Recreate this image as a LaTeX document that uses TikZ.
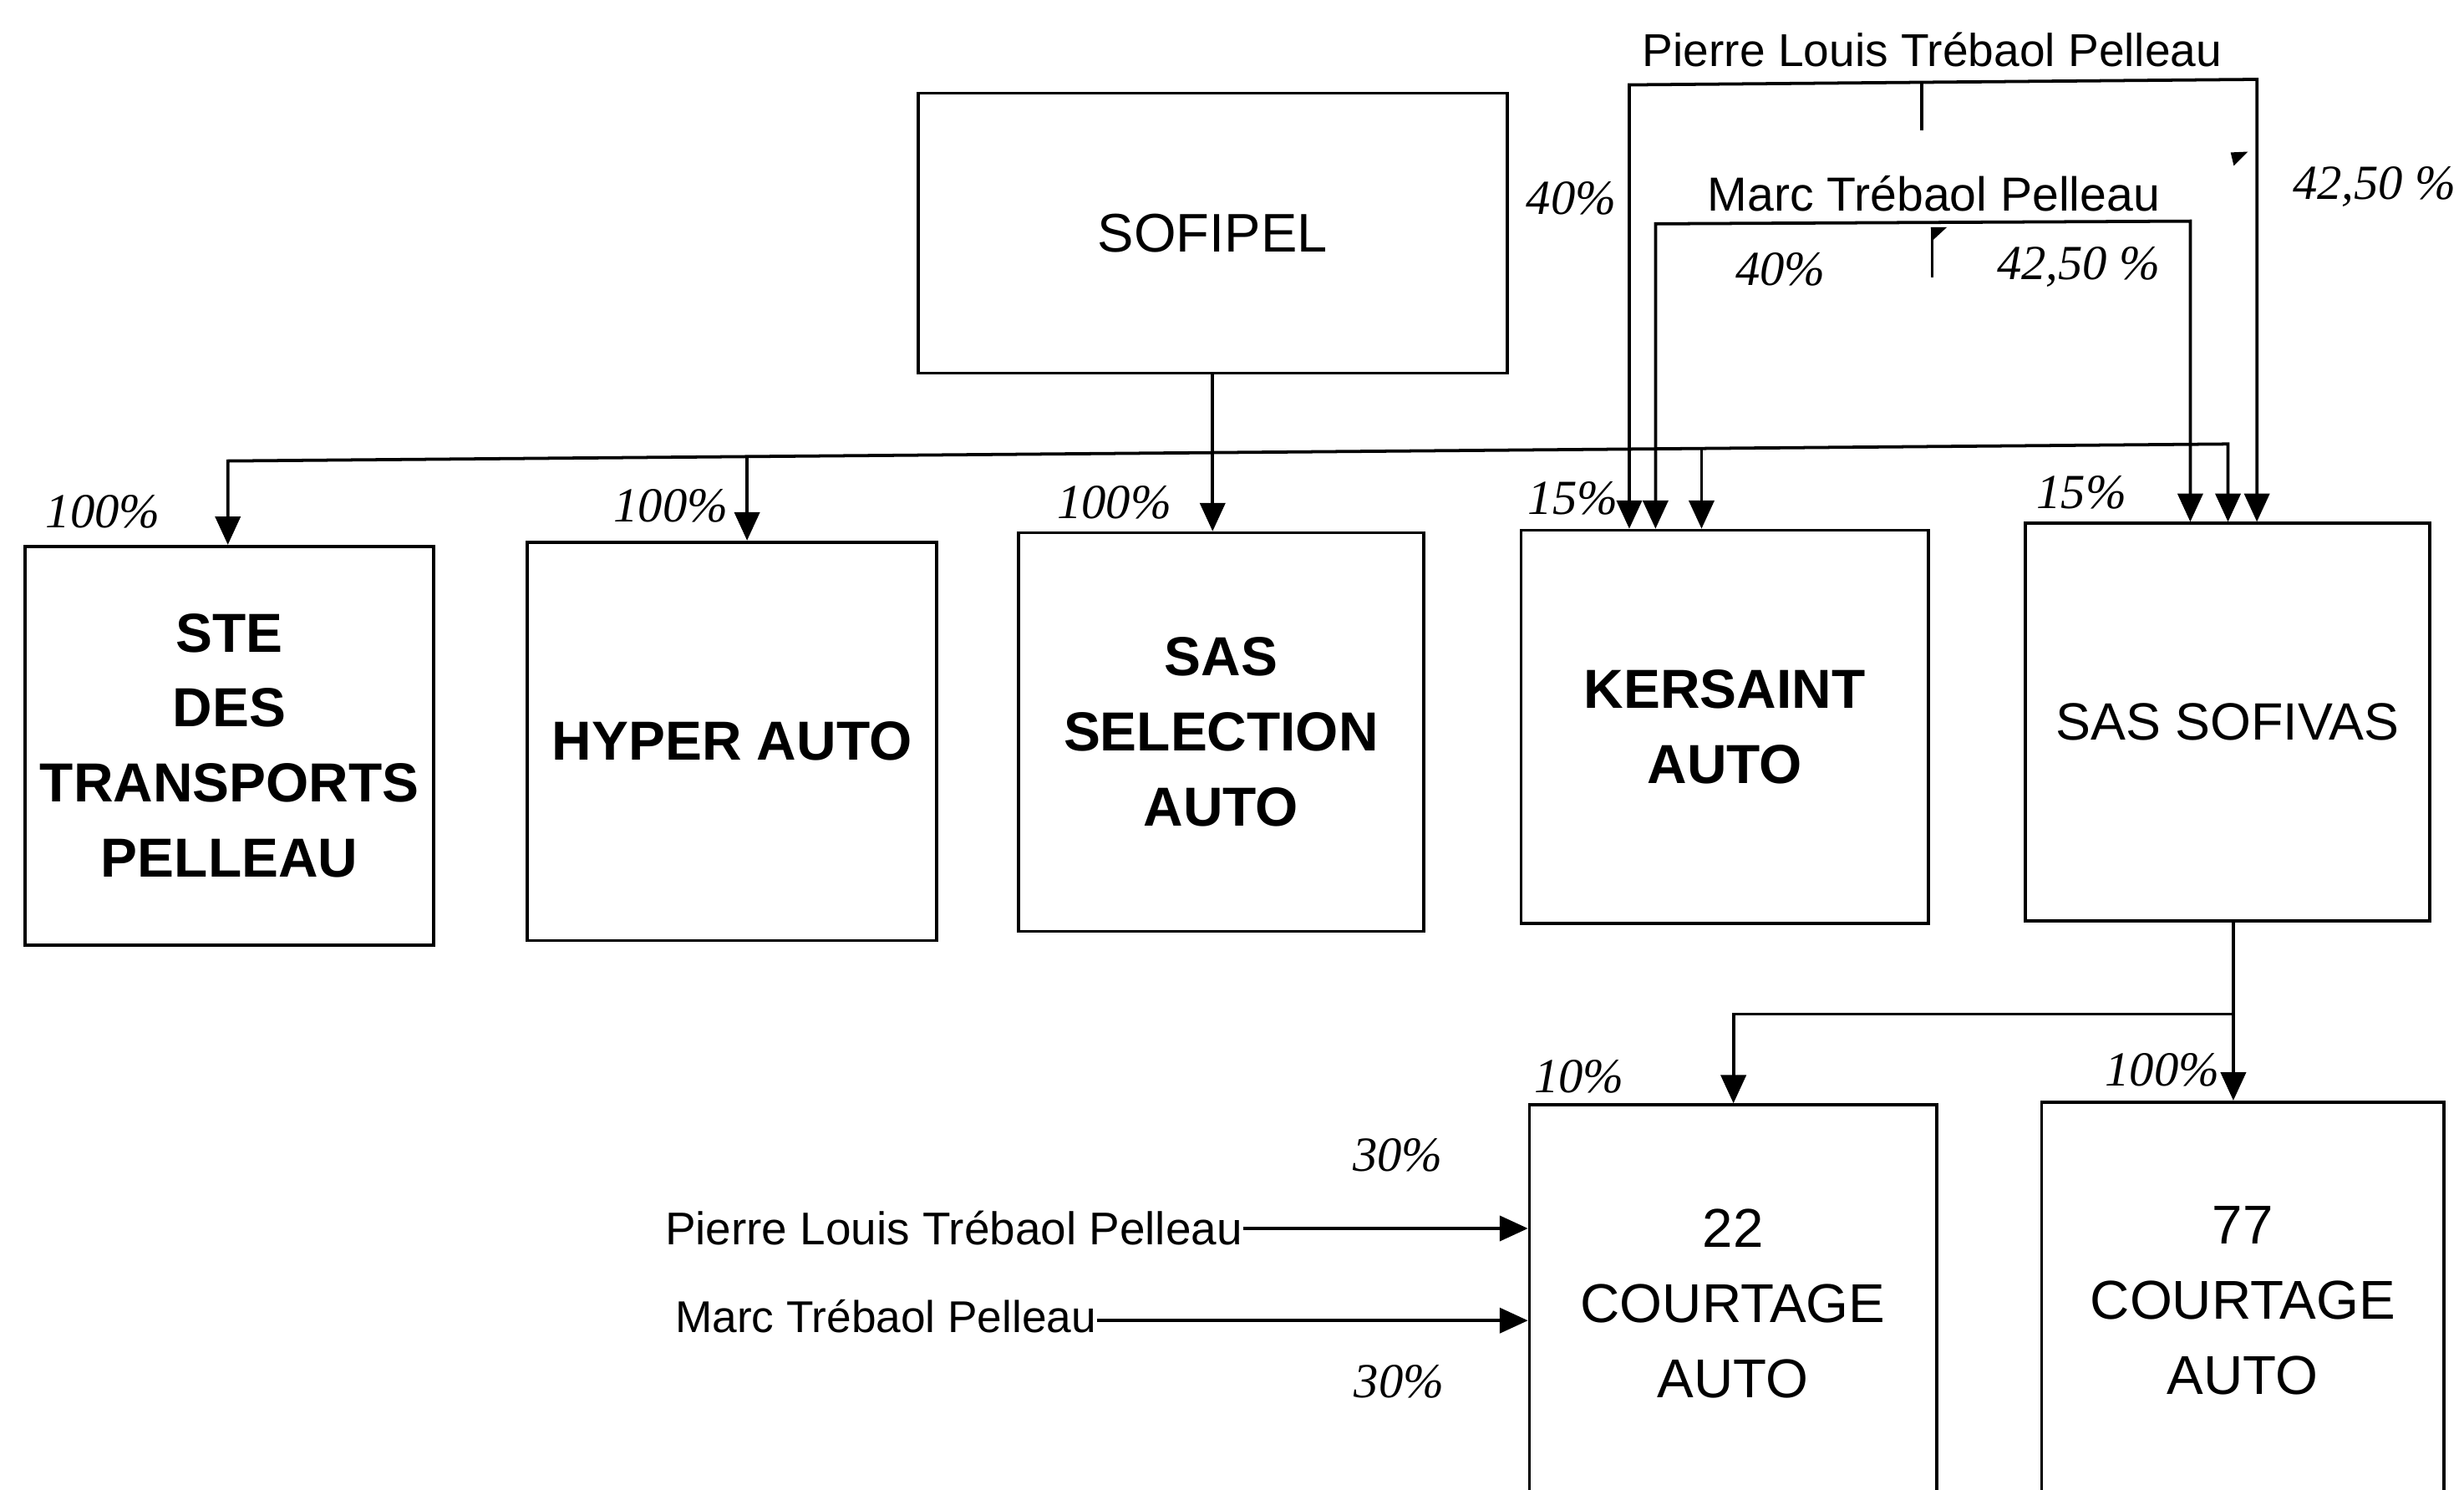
\documentclass[tikz,border=0pt]{standalone}
\usepackage{fontspec}
\setmainfont{Liberation Sans}
\newfontfamily\pctfamily{Liberation Serif}
\usetikzlibrary{arrows.meta}
\begin{document}
\begin{tikzpicture}[x=0.5pt,y=-0.5pt,
  box/.style={draw,line width=1pt,inner sep=0pt,align=center},
  bfbox/.style={box,font=\fontsize{17.5pt}{23.9pt}\selectfont\bfseries},
  rgbox/.style={box,font=\fontsize{17.4pt}{24pt}\selectfont},
  con/.style={line width=1pt},
  arr/.style={con,-{Triangle[width=8pt,length=9pt]}},
  darr/.style={con,{Triangle[width=8pt,length=9pt]}-{Triangle[width=8pt,length=9pt]}},
  pct/.style={font=\pctfamily\itshape\fontsize{15.6pt}{18pt}\selectfont,inner sep=0pt,anchor=base},
  who/.style={inner sep=0pt,anchor=base}
]
\clip (0,0) rectangle (1568,948);
\fill[white] (0,0) rectangle (1568,948);

% boxes
\node[rgbox,minimum width=187.35pt,minimum height=89.05pt,font=\fontsize{17.3pt}{24pt}\selectfont] (sofipel) at (771.65,148.35) {SOFIPEL};
\node[bfbox,minimum width=130pt,minimum height=126.8pt] (ste) at (146,474.4) {STE\\DES\\TRANSPORTS\\PELLEAU};
\node[bfbox,minimum width=130.15pt,minimum height=126.75pt] (hyper) at (465.85,471.65) {HYPER AUTO};
\node[bfbox,minimum width=129pt,minimum height=126.8pt] (selection) at (777,465.8) {SAS\\SELECTION\\AUTO};
\node[bfbox,minimum width=129.5pt,minimum height=125.05pt] (kersaint) at (1097.5,462.45) {KERSAINT\\AUTO};
\node[rgbox,minimum width=128.5pt,minimum height=126.5pt,font=\fontsize{16.7pt}{24pt}\selectfont] (sofivas) at (1417.5,459.5) {SAS SOFIVAS};
\node[rgbox,minimum width=129.5pt,minimum height=126.5pt] (c22) at (1102.8,829.5) {22\\COURTAGE\\AUTO};
\node[rgbox,minimum width=128pt,minimum height=126.4pt] (c77) at (1427.2,827.6) {77\\COURTAGE\\AUTO};

% person labels
\node[who,font=\fontsize{14.65pt}{17pt}\selectfont] (pierre) at (1229.6,42.4) {Pierre Louis Trébaol Pelleau};
\node[who,font=\fontsize{15.2pt}{17pt}\selectfont] (marc) at (1230.5,134) {Marc Trébaol Pelleau};
\node[who,anchor=base east,font=\fontsize{14.6pt}{17pt}\selectfont] (pierre2) at (791,792) {Pierre Louis Trébaol Pelleau};
\node[who,anchor=base east,font=\fontsize{14.15pt}{17pt}\selectfont] (marc2) at (698,848) {Marc Trébaol Pelleau};

% SOFIPEL bus
\coordinate (busL) at (145,293.3);
\coordinate (busR) at (1417.8,282.5);
\coordinate (bH) at (475.4,290.5);
\coordinate (bK) at (1082.8,285.2);
\draw[darr] (busL |- ste.north) -- (busL) -- (busR) -- (busR |- sofivas.north);
\draw[arr] (bH) -- (bH |- hyper.north);
\draw[arr] (sofipel.south) -- (sofipel.south |- selection.north);
\draw[arr] (bK) -- (bK |- kersaint.north);

% Pierre Louis
\coordinate (pL) at (1036.8,54);
\coordinate (pR) at (1436.2,50.5);
\draw[darr] (pL |- kersaint.north) -- (pL) -- (pR) -- (pR |- sofivas.north);
\coordinate (pt1) at (1223,52.3);
\coordinate (pt2) at (1223,83);
\draw[con] (pt1) -- (pt2);
\fill (1419.5,97) -- (1430.5,96.5) -- (1421.5,105.5) -- cycle;

% Marc
\coordinate (mL) at (1053.5,142.4);
\coordinate (mR) at (1393.8,140.7);
\draw[darr] (mL |- kersaint.north) -- (mL) -- (mR) -- (mR |- sofivas.north);
\coordinate (mt1) at (1229.6,145.5);
\coordinate (mt2) at (1229.6,176.5);
\draw[con] (mt1) -- (mt2);
\fill (1228.6,144.5) -- (1239,144.5) -- (1229.8,153) -- cycle;

% SOFIVAS to courtage
\coordinate (sv) at ([xshift=1.85pt]sofivas.south);
\coordinate (j) at (1421.2,645.2);
\coordinate (jl) at (1103.1,645.2);
\draw[con] (sv) -- (j);
\draw[arr] (j) -- (jl) -- (jl |- c22.north);
\draw[arr] (j) -- (j |- c77.north);

% left arrows into 22
\coordinate (pa) at ([yshift=5.2pt]pierre2.base east);
\draw[arr] (pa) -- (pa -| c22.west);
\coordinate (ma) at ([yshift=3.9pt]marc2.base east);
\draw[arr] (ma) -- (ma -| c22.west);

% percentages
\node[pct] (p1) at (65.5,336) {100\%};
\node[pct] (p2) at (427,332) {100\%};
\node[pct] (p3) at (709,329.7) {100\%};
\node[pct] (p4) at (1000,136.3) {40\%};
\node[pct] (p5) at (1001,327) {15\%};
\node[pct] (p6) at (1133,181.4) {40\%};
\node[pct] (p7) at (1322.8,178) {42,50 \%};
\node[pct] (p8) at (1511,127) {42,50 \%};
\node[pct] (p9) at (1324.6,323.8) {15\%};
\node[pct] (p10) at (1004.8,695) {10\%};
\node[pct] (p11) at (1376,691) {100\%};
\node[pct] (p12) at (889.5,745.3) {30\%};
\node[pct] (p13) at (890.3,889.4) {30\%};
\end{tikzpicture}
\end{document}
